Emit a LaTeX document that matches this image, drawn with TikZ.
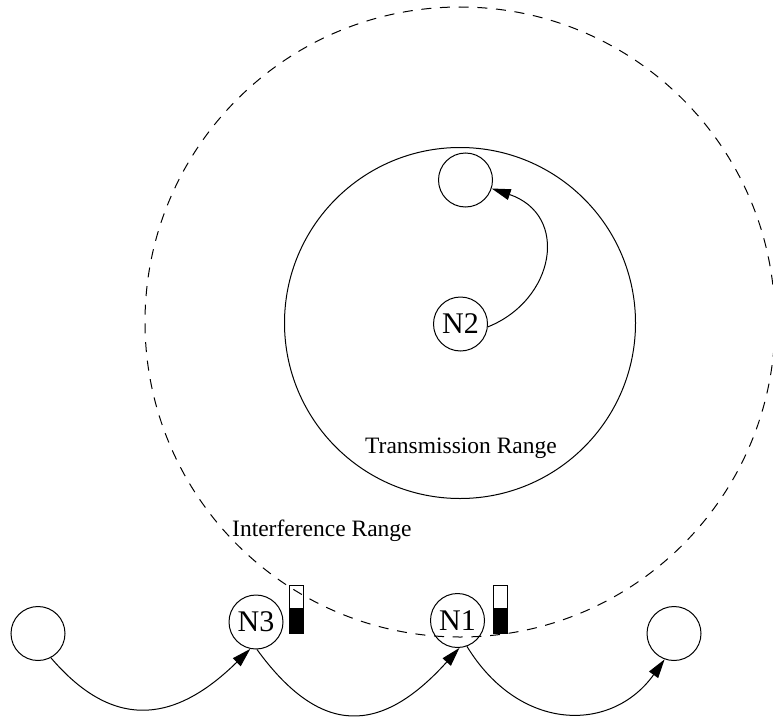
\documentclass[tikz,border=0pt]{standalone}
\usepackage{fontspec}
\setmainfont{Liberation Serif}
\usetikzlibrary{arrows.meta}
\begin{document}
\begin{tikzpicture}[x=1pt,y=-1pt,
  nd/.style={circle,draw,line width=1pt,minimum size=54pt,inner sep=0pt,font=\fontsize{30}{34}\selectfont},
  conn/.style={line width=1pt,-{Triangle[length=19pt,width=11pt]}},
  lbl/.style={font=\fontsize{23.5}{28}\selectfont,inner sep=0pt},
  rng/.style={line width=1pt},
  buf/.style={line width=0.8pt}]
\useasboundingbox (0,0) rectangle (773,717);
\begin{scope}
  \clip (0,0) rectangle (773,717);
  \draw[rng,dash pattern=on 10pt off 8.7pt] (460,322) circle[radius=315pt];
\end{scope}
\draw[rng] (460,323) circle[radius=175.5pt];

\node[nd] (N2) at (460.5,324) {N2};
\node[nd] (T) at (465.5,180) {};
\node[nd] (L) at (38,633.5) {};
\node[nd] (N3) at (256,622) {N3};
\node[nd] (N1) at (457.5,620.5) {N1};
\node[nd] (R) at (674,633.5) {};

\node[lbl,anchor=base] (tr) at (461,453) {Transmission Range};
\node[lbl,anchor=base west] (ir) at (232,536) {Interference Range};

\draw[buf] (289,585) rectangle (303,633);
\fill (289,608) rectangle (303,633);
\draw[buf] (493,585) rectangle (507,633);
\fill (493,608) rectangle (507,633);

\draw[conn] (N2.-6) .. controls (555,300) and (570,215) .. (T.-18);
\draw[conn] (L.-62) .. controls (110,727) and (171,727) .. (N3.-102);
\draw[conn] (N3.-88) .. controls (320,736) and (380,736) .. (N1.-86);
\draw[conn] (N1.-70) .. controls (520,733) and (612,733) .. (R.-110);
\end{tikzpicture}
\end{document}
